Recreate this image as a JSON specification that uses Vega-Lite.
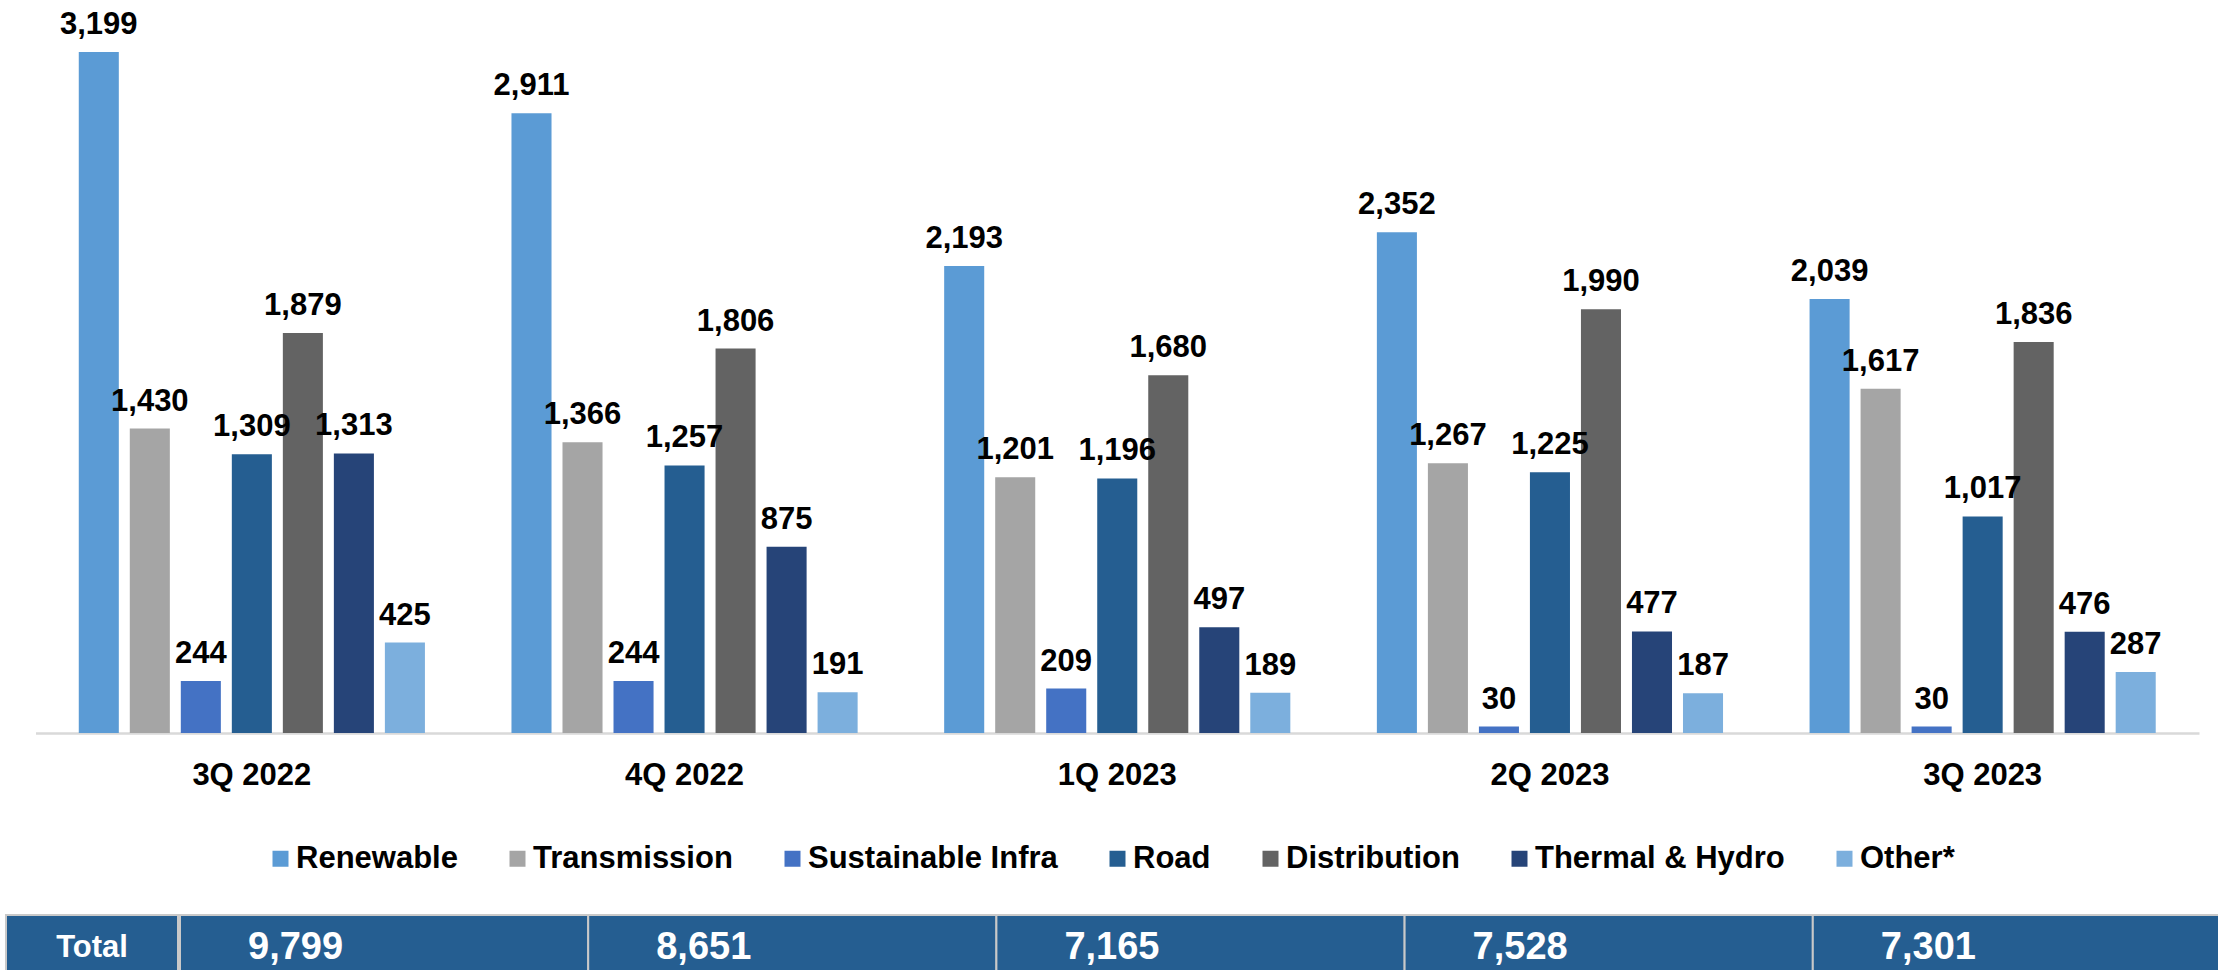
{
  "$schema": "https://vega.github.io/schema/vega-lite/v6.json",
  "padding": {"left": 5, "top": 0, "right": 0, "bottom": 0},
  "background": "white",
  "spacing": 124,
  "config": {
    "view": {"stroke": null},
    "font": "Liberation Sans"
  },
  "datasets": {
    "segments": [
      {"quarter": "3Q 2022", "segment": "Renewable", "value": 3199},
      {"quarter": "3Q 2022", "segment": "Transmission", "value": 1430},
      {"quarter": "3Q 2022", "segment": "Sustainable Infra", "value": 244},
      {"quarter": "3Q 2022", "segment": "Road", "value": 1309},
      {"quarter": "3Q 2022", "segment": "Distribution", "value": 1879},
      {"quarter": "3Q 2022", "segment": "Thermal & Hydro", "value": 1313},
      {"quarter": "3Q 2022", "segment": "Other*", "value": 425},
      {"quarter": "4Q 2022", "segment": "Renewable", "value": 2911},
      {"quarter": "4Q 2022", "segment": "Transmission", "value": 1366},
      {"quarter": "4Q 2022", "segment": "Sustainable Infra", "value": 244},
      {"quarter": "4Q 2022", "segment": "Road", "value": 1257},
      {"quarter": "4Q 2022", "segment": "Distribution", "value": 1806},
      {"quarter": "4Q 2022", "segment": "Thermal & Hydro", "value": 875},
      {"quarter": "4Q 2022", "segment": "Other*", "value": 191},
      {"quarter": "1Q 2023", "segment": "Renewable", "value": 2193},
      {"quarter": "1Q 2023", "segment": "Transmission", "value": 1201},
      {"quarter": "1Q 2023", "segment": "Sustainable Infra", "value": 209},
      {"quarter": "1Q 2023", "segment": "Road", "value": 1196},
      {"quarter": "1Q 2023", "segment": "Distribution", "value": 1680},
      {"quarter": "1Q 2023", "segment": "Thermal & Hydro", "value": 497},
      {"quarter": "1Q 2023", "segment": "Other*", "value": 189},
      {"quarter": "2Q 2023", "segment": "Renewable", "value": 2352},
      {"quarter": "2Q 2023", "segment": "Transmission", "value": 1267},
      {"quarter": "2Q 2023", "segment": "Sustainable Infra", "value": 30},
      {"quarter": "2Q 2023", "segment": "Road", "value": 1225},
      {"quarter": "2Q 2023", "segment": "Distribution", "value": 1990},
      {"quarter": "2Q 2023", "segment": "Thermal & Hydro", "value": 477},
      {"quarter": "2Q 2023", "segment": "Other*", "value": 187},
      {"quarter": "3Q 2023", "segment": "Renewable", "value": 2039},
      {"quarter": "3Q 2023", "segment": "Transmission", "value": 1617},
      {"quarter": "3Q 2023", "segment": "Sustainable Infra", "value": 30},
      {"quarter": "3Q 2023", "segment": "Road", "value": 1017},
      {"quarter": "3Q 2023", "segment": "Distribution", "value": 1836},
      {"quarter": "3Q 2023", "segment": "Thermal & Hydro", "value": 476},
      {"quarter": "3Q 2023", "segment": "Other*", "value": 287}
    ],
    "totals": [
      {"quarter": "3Q 2022", "total": 9799},
      {"quarter": "4Q 2022", "total": 8651},
      {"quarter": "1Q 2023", "total": 7165},
      {"quarter": "2Q 2023", "total": 7528},
      {"quarter": "3Q 2023", "total": 7301}
    ]
  },
  "vconcat": [
    {
      "width": 2213,
      "height": 733,
      "data": {"name": "segments"},
      "encoding": {
        "x": {
          "field": "quarter",
          "type": "nominal",
          "sort": ["3Q 2022", "4Q 2022", "1Q 2023", "2Q 2023", "3Q 2023"],
          "scale": {"range": [29.5, 2193], "paddingInner": 0.2, "paddingOuter": 0.1},
          "axis": {
            "title": null,
            "labelAngle": 0,
            "domainColor": "#D9D9D9",
            "domainWidth": 2.3,
            "ticks": false,
            "tickSize": 0,
            "grid": false,
            "labelFont": "Liberation Sans",
            "labelFontSize": 31,
            "labelFontWeight": "bold",
            "labelColor": "#000000",
            "labelBaseline": "alphabetic",
            "labelPadding": 51
          }
        },
        "xOffset": {
          "field": "segment",
          "type": "nominal",
          "sort": ["Renewable", "Transmission", "Sustainable Infra", "Road", "Distribution", "Thermal & Hydro", "Other*"],
          "scale": {"paddingInner": 0.215, "paddingOuter": 0}
        },
        "y": {
          "field": "value",
          "type": "quantitative",
          "scale": {"domain": [0, 3443], "nice": false},
          "axis": null
        }
      },
      "layer": [
        {
          "mark": {"type": "bar"},
          "encoding": {
            "color": {
              "field": "segment",
              "type": "nominal",
              "sort": ["Renewable", "Transmission", "Sustainable Infra", "Road", "Distribution", "Thermal & Hydro", "Other*"],
              "scale": {
                "domain": ["Renewable", "Transmission", "Sustainable Infra", "Road", "Distribution", "Thermal & Hydro", "Other*"],
                "range": ["#5B9BD5", "#A5A5A5", "#4472C4", "#255E91", "#636363", "#264478", "#7CAFDD"]
              },
              "legend": {
                "orient": "none",
                "legendX": 259,
                "legendY": 843,
                "direction": "horizontal",
                "title": null,
                "padding": 0,
                "symbolType": "square",
                "symbolSize": 256,
                "symbolStrokeWidth": 0,
                "labelFont": "Liberation Sans",
                "labelFontSize": 31,
                "labelFontWeight": "bold",
                "labelColor": "#000000",
                "labelOffset": 0,
                "columnPadding": 44,
                "labelLimit": 400
              }
            }
          }
        },
        {
          "mark": {
            "type": "text",
            "baseline": "alphabetic",
            "dy": -18,
            "font": "Liberation Sans",
            "fontSize": 31,
            "fontWeight": "bold",
            "color": "#000000"
          },
          "encoding": {
            "text": {"field": "value", "type": "quantitative", "format": ","}
          }
        }
      ]
    },
    {
      "spacing": 0,
      "hconcat": [
        {
          "width": 172,
          "height": 57,
          "data": {"values": [{"label": "Total"}]},
          "encoding": {
            "x": {"field": "label", "type": "nominal", "scale": {"paddingInner": 0, "paddingOuter": 0}, "axis": null}
          },
          "layer": [
            {"mark": {"type": "rect", "fill": "#255E91", "stroke": "#C9C9C9", "strokeWidth": 2}},
            {
              "mark": {"type": "text", "baseline": "middle", "dy": 4, "font": "Liberation Sans", "fontSize": 31, "fontWeight": "bold", "color": "#FFFFFF"},
              "encoding": {"text": {"field": "label"}}
            }
          ]
        },
        {
          "width": 2041,
          "height": 57,
          "data": {"name": "totals"},
          "encoding": {
            "x": {
              "field": "quarter",
              "type": "nominal",
              "sort": ["3Q 2022", "4Q 2022", "1Q 2023", "2Q 2023", "3Q 2023"],
              "scale": {"paddingInner": 0, "paddingOuter": 0},
              "axis": null
            }
          },
          "layer": [
            {"mark": {"type": "rect", "fill": "#255E91", "stroke": "#C9C9C9", "strokeWidth": 2}},
            {
              "mark": {"type": "text", "align": "left", "baseline": "middle", "dx": 68, "dy": 4, "font": "Liberation Sans", "fontSize": 38, "fontWeight": "bold", "color": "#FFFFFF"},
              "encoding": {
                "x": {"field": "quarter", "type": "nominal", "sort": ["3Q 2022", "4Q 2022", "1Q 2023", "2Q 2023", "3Q 2023"], "bandPosition": 0},
                "text": {"field": "total", "type": "quantitative", "format": ","}
              }
            }
          ]
        }
      ]
    }
  ]
}
